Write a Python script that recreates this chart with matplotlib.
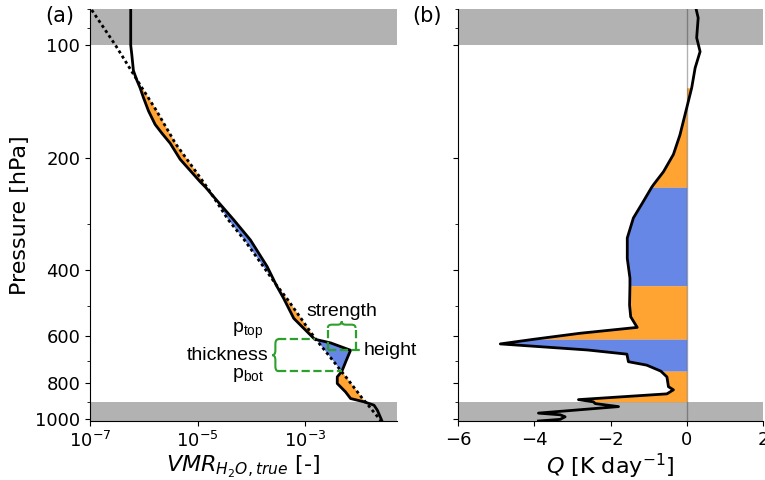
import numpy as np
import matplotlib
matplotlib.use('Agg')
import matplotlib.pyplot as plt
from matplotlib.path import Path
from matplotlib.patches import PathPatch
from matplotlib.ticker import FixedLocator, FixedFormatter, LogLocator, NullLocator, NullFormatter

# ---- panel (a): water vapour profile [hPa] , true and reference (dotted)
p_a = [78, 100, 106, 117, 124, 130, 138, 150, 163, 172, 183, 202, 220, 232, 240,
       256, 293, 332, 391, 416, 440, 476, 538, 567, 612, 626, 655, 700, 745, 772,
       804, 847, 882, 900, 919, 948, 1018]
vmr_true = [5.7e-7, 5.7e-7, 5.97e-7, 6.4e-7, 7.4e-7, 8.5e-7, 9.8e-7, 1.22e-6, 1.62e-6, 2.16e-6,
            3.08e-6, 4.72e-6, 8.0e-6, 1.11e-5, 1.40e-5, 2.05e-5, 4.63e-5, 9.5e-5, 1.94e-4, 2.40e-4,
            2.9e-4, 3.94e-4, 6.05e-4, 8.69e-4, 1.48e-3, 2.92e-3, 6.87e-3, 5.66e-3, 4.75e-3, 3.89e-3,
            3.89e-3, 5.55e-3, 6.87e-3, 1.22e-2, 1.87e-2, 2.16e-2, 2.67e-2]
vmr_ref = [9.3e-8, 2.97e-7, 3.82e-7, 5.84e-7, 7.5e-7, 9.2e-7, 1.2e-6, 1.73e-6, 2.41e-6, 3.0e-6,
           3.83e-6, 6.31e-6, 9.7e-6, 1.26e-5, 1.49e-5, 2.0e-5, 3.67e-5, 7.33e-5, 1.65e-4, 2.23e-4,
           2.95e-4, 4.5e-4, 8.23e-4, 1.06e-3, 1.55e-3, 1.76e-3, 2.27e-3, 3.28e-3, 4.6e-3, 5.62e-3,
           6.98e-3, 9.24e-3, 1.14e-2, 1.29e-2, 1.46e-2, 1.74e-2, 2.6e-2]

# ---- panel (b): heating rate Q [K/day]
p_b = [78, 84.5, 95.5, 104, 115, 130, 147, 174, 196, 218, 236, 240, 262, 290, 328,
       372, 420, 440, 496, 533, 569, 590, 612, 630, 654, 671, 703, 718, 745, 772,
       820, 836, 857, 888, 900, 910, 927, 965, 975, 987, 1003, 1013]
q_b = [0.22, 0.30, 0.26, 0.35, 0.22, 0.13, 0.0, -0.18, -0.35, -0.61, -0.87, -0.92, -1.14, -1.40, -1.56,
       -1.56, -1.49, -1.49, -1.50, -1.47, -1.30, -2.80, -4.0, -4.89, -2.60, -1.57, -1.53, -1.05, -0.68, -0.52,
       -0.48, -0.35, -0.52, -2.84, -2.45, -2.40, -1.79, -3.89, -3.32, -3.19, -3.32, -3.89]

# layers (pressure bounds) dry / moist
layer_bounds = [130, 240, 440, 612, 745, 900]
layer_kind = ['dry', 'moist', 'dry', 'moist', 'dry']
kind_col = {'dry': 'darkorange', 'moist': 'royalblue'}

# where the strength bracket sits (VMR)
strength_x = [2.6e-3, 8.5e-3]

p_lim = (1013, 80)
p_ticks = [100, 200, 400, 600, 800, 1000]
green = '#2ca02c'

fig = plt.figure(figsize=(7.65, 4.8), dpi=100)
ax1 = fig.add_axes([90/765, 1-421/480, 307/765, 412/480])
ax2 = fig.add_axes([458/765, 1-421/480, 305/765, 412/480])

pa = np.array(p_a)
pb = np.array(p_b)

for ax in (ax1, ax2):
    ax.set_yscale('log')
    ax.set_ylim(p_lim)
    ax.yaxis.set_major_locator(FixedLocator(p_ticks))
    ax.yaxis.set_minor_locator(LogLocator(subs=np.arange(1, 10)))
    ax.yaxis.set_minor_formatter(NullFormatter())
    ax.axhspan(p_lim[1], 100, color='grey', alpha=0.6, lw=0)
    ax.axhspan(900, p_lim[0], color='grey', alpha=0.6, lw=0)
    ax.spines['top'].set_visible(False)
    ax.spines['right'].set_visible(False)
    ax.tick_params(labelsize=13)

ax1.yaxis.set_major_formatter(FixedFormatter([str(t) for t in p_ticks]))
ax2.yaxis.set_major_formatter(NullFormatter())

# panel a
for i in range(len(layer_kind)):
    lo, hi = layer_bounds[i], layer_bounds[i+1]
    w = (pa >= lo) & (pa <= hi)
    ax1.fill_betweenx(pa, vmr_true, vmr_ref, where=w, color=kind_col[layer_kind[i]], alpha=0.8, lw=0)
ax1.plot(vmr_ref, pa, 'k', lw=2, dashes=(1.1, 1.1))
ax1.plot(vmr_true, pa, 'k-', lw=2)
ax1.set_xscale('log')
ax1.set_xlim(1e-7, 5e-2)
ax1.xaxis.set_major_locator(FixedLocator([1e-7, 1e-5, 1e-3]))
ax1.xaxis.set_minor_locator(NullLocator())
ax1.set_xlabel(r'$VMR_{H_2O,true}$ [-]', fontsize=16, labelpad=2)
ax1.set_ylabel('Pressure [hPa]', fontsize=16)

# panel b
for i in range(len(layer_kind)):
    lo, hi = layer_bounds[i], layer_bounds[i+1]
    w = (pb >= lo) & (pb <= hi)
    ax2.fill_betweenx(pb, q_b, 0, where=w, color=kind_col[layer_kind[i]], alpha=0.8, lw=0)
ax2.axvline(0, color='k', alpha=0.3, lw=1)
ax2.plot(q_b, pb, 'k-', lw=2)
ax2.set_xlim(-6, 2)
ax2.set_xticks([-6, -4, -2, 0, 2])
ax2.set_xlabel(r'$Q$ [K day$^{-1}$]', fontsize=16, labelpad=2)

# ---- annotation of the moist layer
tr = ax1.transData + ax1.transAxes.inverted()
def to_ax(x, y):
    return tr.transform((x, y))

C3 = Path.CURVE3
codes = [Path.MOVETO, C3, C3, Path.LINETO, C3, C3, C3, C3, Path.LINETO, C3, C3]

def vbrace(ax, xr, yt, yb, d, r):
    xm, xl, yc = xr - d/2, xr - d, (yt + yb)/2
    v = [(xr, yt), (xm, yt), (xm, yt-r), (xm, yc+r), (xm, yc), (xl, yc), (xm, yc),
         (xm, yc-r), (xm, yb+r), (xm, yb), (xr, yb)]
    ax.add_patch(PathPatch(Path(v, codes), fc='none', ec=green, lw=1.5,
                           transform=ax.transAxes, clip_on=False))

def hbrace(ax, xl, xr, yb, h, r):
    ym, yt, xc = yb + h/2, yb + h, (xl + xr)/2
    v = [(xl, yb), (xl, ym), (xl+r, ym), (xc-r, ym), (xc, ym), (xc, yt), (xc, ym),
         (xc+r, ym), (xr-r, ym), (xr, ym), (xr, yb)]
    ax.add_patch(PathPatch(Path(v, codes), fc='none', ec=green, lw=1.5,
                           transform=ax.transAxes, clip_on=False))

p_top, p_bot = layer_bounds[3], layer_bounds[4]
i_top = p_a.index(p_top)
i_bot = p_a.index(p_bot)
i_pk = i_top + int(np.argmax(vmr_true[i_top:i_bot+1]))
p_pk = p_a[i_pk]
x_l, x_r = strength_x

# thickness bracket
x_br = 3.15e-4
dash = dict(color=green, ls='--', lw=1.6)
ax1.plot([x_br, vmr_true[i_top]], [p_top, p_top], **dash)
ax1.plot([x_br, vmr_true[i_bot]], [p_bot, p_bot], **dash)
bx, byt = to_ax(x_br, p_top)
_, byb = to_ax(x_br, p_bot)
vbrace(ax1, bx, byt, byb, 0.02, 0.012)

# height line
ax1.plot([x_l, 1.13e-2], [p_pk, p_pk], clip_on=False, **dash)
# strength bracket
p_sb = 571
ax1.plot([x_l, x_l], [p_pk, p_sb], **dash)
ax1.plot([x_r, x_r], [p_pk, p_sb], **dash)
sxl, sy = to_ax(x_l, p_sb)
sxr, _ = to_ax(x_r, p_sb)
hbrace(ax1, sxl, sxr, sy, 0.016, 0.013)

fnt = dict(family='Liberation Sans', fontsize=14)
ax1.text(np.sqrt(x_l*x_r), 542, 'strength', ha='center', va='bottom', **fnt)
ax1.text(1.2e-2, p_pk, 'height', ha='left', va='center', **fnt)
ax1.text(2.07e-4, np.sqrt(p_top*p_bot), 'thickness', ha='right', va='center', **fnt)
ax1.text(4.33e-5, 588, r'p$_{\mathrm{top}}$', ha='left', va='baseline', math_fontfamily='custom', **fnt)
ax1.text(4.33e-5, 775, r'p$_{\mathrm{bot}}$', ha='left', va='baseline', math_fontfamily='custom', **fnt)

fig.text(45/765, 1-6/480, '(a)', fontsize=15, va='top')
fig.text(412/765, 1-6/480, '(b)', fontsize=15, va='top')

plt.rcParams['mathtext.rm'] = 'Liberation Sans'
fig.savefig('out.png', dpi=100)
